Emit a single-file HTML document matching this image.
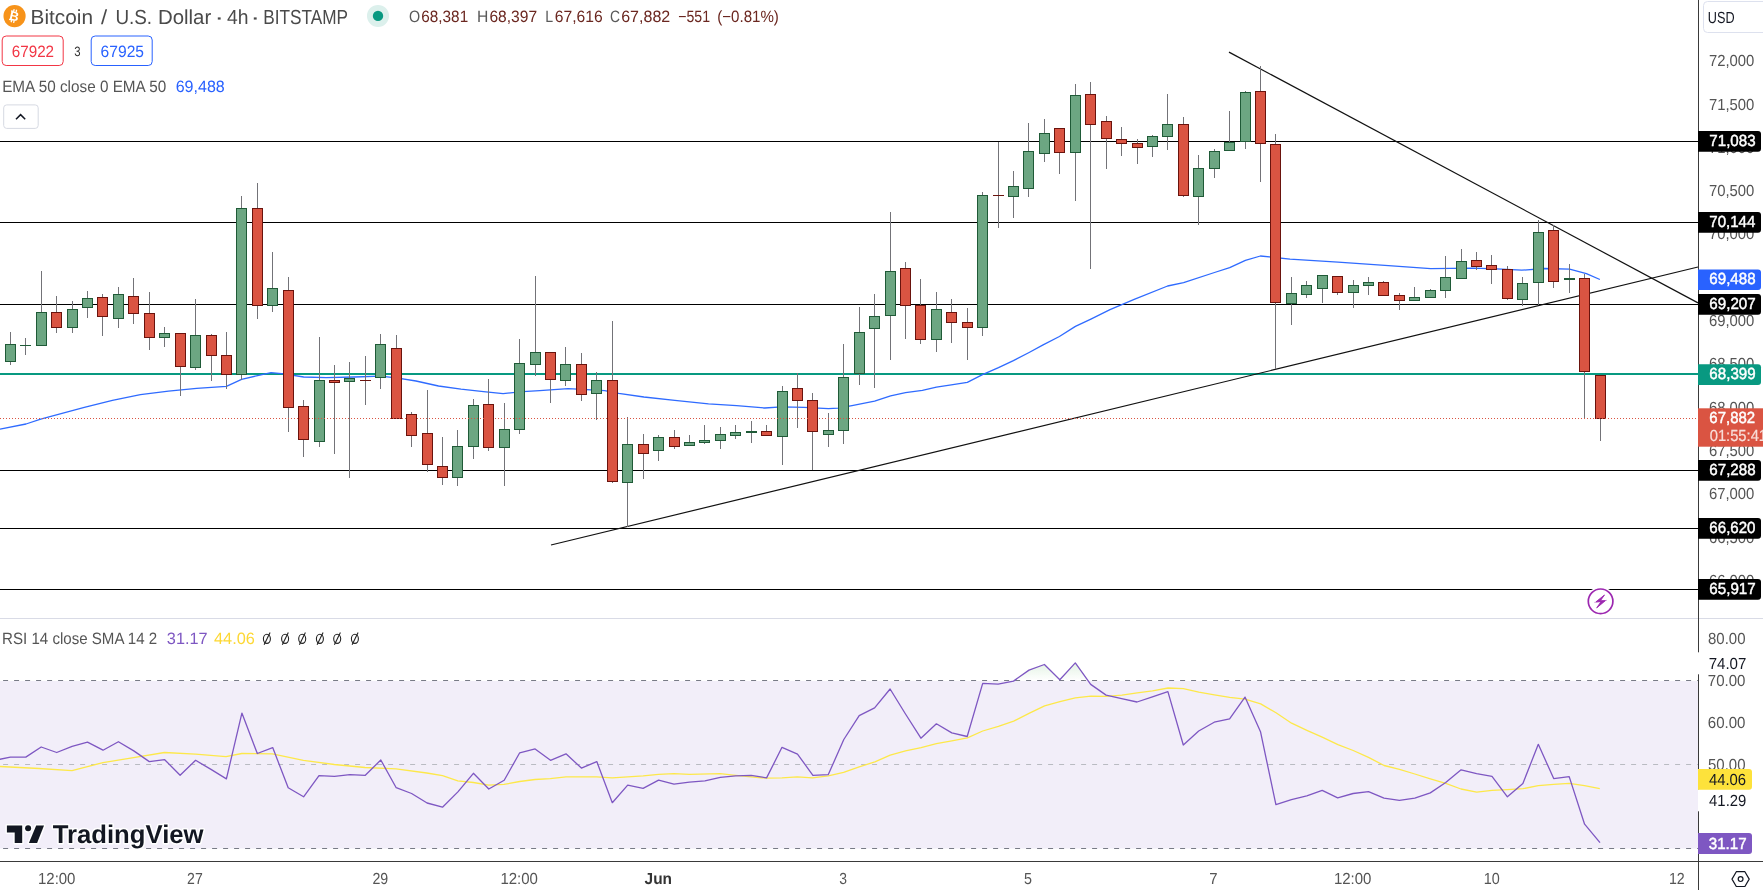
<!DOCTYPE html><html><head><meta charset="utf-8"><title>BTCUSD</title><style>
html,body{margin:0;padding:0;background:#fff}body{width:1763px;height:890px;position:relative;overflow:hidden;font-family:"Liberation Sans",sans-serif}
</style></head><body>
<svg width="1763" height="890" viewBox="0 0 1763 890" style="position:absolute;left:0;top:0;will-change:transform">
<defs><linearGradient id="ob" gradientUnits="userSpaceOnUse" x1="0" y1="658" x2="0" y2="680.5"><stop offset="0" stop-color="#4CAF50" stop-opacity="0.2"/><stop offset="1" stop-color="#4CAF50" stop-opacity="0"/></linearGradient></defs>
<rect x="0" y="681" width="1698" height="167.5" fill="#F2EEF9"/>
<rect x="0" y="618" width="1763" height="1" fill="#D9DBE6"/>
<rect x="0" y="141" width="1698" height="1" fill="#000"/>
<rect x="0" y="222" width="1698" height="1" fill="#000"/>
<rect x="0" y="304" width="1698" height="1" fill="#000"/>
<rect x="0" y="470" width="1698" height="1" fill="#000"/>
<rect x="0" y="528" width="1698" height="1" fill="#000"/>
<rect x="0" y="589" width="1698" height="1" fill="#000"/>
<rect x="0" y="373" width="1698" height="2" fill="#089981"/>
<g stroke="#111" stroke-width="1.2" fill="none">
<line x1="1229" y1="52.1" x2="1698" y2="302.9"/>
<line x1="551" y1="545" x2="1698" y2="267"/>
</g>
<polyline fill="none" stroke="#2F6BFF" stroke-width="1.3" stroke-linejoin="round" points="0,429.2 26,424 40.7,419.2 84.3,407.4 112.4,400.3 140.4,394.7 168.5,391.1 196.6,388.3 226.4,386.3 241.6,379.3 257.6,375.6 271,372.6 284,373.9 303.7,377 326.2,377.6 354.3,377 380.4,376.2 396.4,377.9 416,381 438.5,386 461,389.1 483.5,391.6 503.1,393.6 522.8,391.6 539.7,390.6 568.1,388.6 582.1,389.4 604.6,390.6 618.7,393.4 643.9,397 674.8,400.4 708.5,403.8 736.6,405.7 764.7,408 781.6,406.9 804,407.4 818.4,408.1 828.5,408.7 838,408.1 852,405.6 874.6,401.1 890.6,395.8 905.5,392.7 922.4,390.4 936.4,387.1 951.3,384.8 967.3,382.3 982.5,374.7 998.5,367.7 1013.4,360.7 1029.1,352.5 1043.1,344.9 1059.4,336.5 1075.4,326.4 1090.9,319.1 1110,309.6 1134.2,299.4 1167.6,286 1183.6,282.6 1214.5,272.5 1229.7,267.7 1245.4,260.3 1260.4,256 1290,259.1 1338,262.2 1388.5,265.6 1430.7,268.7 1472.8,268.1 1496.5,268.8 1521.8,270.2 1544.3,268.5 1569.6,269.1 1586.4,273.6 1599.9,279.5"/>
<g shape-rendering="crispEdges">
<rect x="10.0" y="332" width="1" height="33" fill="#737378"/>
<rect x="5.0" y="344" width="11" height="18" fill="#1F5A37"/>
<rect x="6.0" y="345" width="9" height="16" fill="#6CA682"/>
<rect x="25.0" y="338" width="1" height="17" fill="#737378"/>
<rect x="20.0" y="345" width="11" height="1" fill="#1F5A37"/>
<rect x="41.0" y="271" width="1" height="75" fill="#737378"/>
<rect x="36.0" y="312" width="11" height="34" fill="#1F5A37"/>
<rect x="37.0" y="313" width="9" height="32" fill="#6CA682"/>
<rect x="56.0" y="296" width="1" height="37" fill="#737378"/>
<rect x="51.0" y="312" width="11" height="16" fill="#6A130D"/>
<rect x="52.0" y="313" width="9" height="14" fill="#DA5442"/>
<rect x="72.0" y="301" width="1" height="32" fill="#737378"/>
<rect x="67.0" y="309" width="11" height="19" fill="#1F5A37"/>
<rect x="68.0" y="310" width="9" height="17" fill="#6CA682"/>
<rect x="87.0" y="291" width="1" height="27" fill="#737378"/>
<rect x="82.0" y="298" width="11" height="10" fill="#1F5A37"/>
<rect x="83.0" y="299" width="9" height="8" fill="#6CA682"/>
<rect x="102.0" y="294" width="1" height="42" fill="#737378"/>
<rect x="97.0" y="297" width="11" height="20" fill="#6A130D"/>
<rect x="98.0" y="298" width="9" height="18" fill="#DA5442"/>
<rect x="118.0" y="287" width="1" height="41" fill="#737378"/>
<rect x="113.0" y="294" width="11" height="25" fill="#1F5A37"/>
<rect x="114.0" y="295" width="9" height="23" fill="#6CA682"/>
<rect x="133.0" y="278" width="1" height="46" fill="#737378"/>
<rect x="128.0" y="296" width="11" height="18" fill="#6A130D"/>
<rect x="129.0" y="297" width="9" height="16" fill="#DA5442"/>
<rect x="149.0" y="292" width="1" height="58" fill="#737378"/>
<rect x="144.0" y="313" width="11" height="25" fill="#6A130D"/>
<rect x="145.0" y="314" width="9" height="23" fill="#DA5442"/>
<rect x="164.0" y="327" width="1" height="20" fill="#737378"/>
<rect x="159.0" y="333" width="11" height="5" fill="#1F5A37"/>
<rect x="160.0" y="334" width="9" height="3" fill="#6CA682"/>
<rect x="180.0" y="333" width="1" height="63" fill="#737378"/>
<rect x="175.0" y="333" width="11" height="34" fill="#6A130D"/>
<rect x="176.0" y="334" width="9" height="32" fill="#DA5442"/>
<rect x="195.0" y="299" width="1" height="71" fill="#737378"/>
<rect x="190.0" y="335" width="11" height="33" fill="#1F5A37"/>
<rect x="191.0" y="336" width="9" height="31" fill="#6CA682"/>
<rect x="211.0" y="334" width="1" height="47" fill="#737378"/>
<rect x="206.0" y="335" width="11" height="21" fill="#6A130D"/>
<rect x="207.0" y="336" width="9" height="19" fill="#DA5442"/>
<rect x="226.0" y="332" width="1" height="57" fill="#737378"/>
<rect x="221.0" y="355" width="11" height="20" fill="#6A130D"/>
<rect x="222.0" y="356" width="9" height="18" fill="#DA5442"/>
<rect x="241.0" y="196" width="1" height="184" fill="#737378"/>
<rect x="236.0" y="208" width="11" height="167" fill="#1F5A37"/>
<rect x="237.0" y="209" width="9" height="165" fill="#6CA682"/>
<rect x="257.0" y="183" width="1" height="136" fill="#737378"/>
<rect x="252.0" y="208" width="11" height="98" fill="#6A130D"/>
<rect x="253.0" y="209" width="9" height="96" fill="#DA5442"/>
<rect x="272.0" y="252" width="1" height="60" fill="#737378"/>
<rect x="267.0" y="288" width="11" height="18" fill="#1F5A37"/>
<rect x="268.0" y="289" width="9" height="16" fill="#6CA682"/>
<rect x="288.0" y="277" width="1" height="155" fill="#737378"/>
<rect x="283.0" y="290" width="11" height="118" fill="#6A130D"/>
<rect x="284.0" y="291" width="9" height="116" fill="#DA5442"/>
<rect x="303.0" y="400" width="1" height="57" fill="#737378"/>
<rect x="298.0" y="406" width="11" height="34" fill="#6A130D"/>
<rect x="299.0" y="407" width="9" height="32" fill="#DA5442"/>
<rect x="319.0" y="337" width="1" height="110" fill="#737378"/>
<rect x="314.0" y="380" width="11" height="62" fill="#1F5A37"/>
<rect x="315.0" y="381" width="9" height="60" fill="#6CA682"/>
<rect x="334.0" y="365" width="1" height="89" fill="#737378"/>
<rect x="329.0" y="380" width="11" height="3" fill="#6A130D"/>
<rect x="330.0" y="381" width="9" height="1" fill="#DA5442"/>
<rect x="349.0" y="362" width="1" height="116" fill="#737378"/>
<rect x="344.0" y="378" width="11" height="4" fill="#1F5A37"/>
<rect x="345.0" y="379" width="9" height="2" fill="#6CA682"/>
<rect x="365.0" y="356" width="1" height="49" fill="#737378"/>
<rect x="360.0" y="380" width="11" height="1" fill="#6A130D"/>
<rect x="380.0" y="334" width="1" height="55" fill="#737378"/>
<rect x="375.0" y="344" width="11" height="34" fill="#1F5A37"/>
<rect x="376.0" y="345" width="9" height="32" fill="#6CA682"/>
<rect x="396.0" y="335" width="1" height="84" fill="#737378"/>
<rect x="391.0" y="348" width="11" height="71" fill="#6A130D"/>
<rect x="392.0" y="349" width="9" height="69" fill="#DA5442"/>
<rect x="411.0" y="412" width="1" height="35" fill="#737378"/>
<rect x="406.0" y="414" width="11" height="22" fill="#6A130D"/>
<rect x="407.0" y="415" width="9" height="20" fill="#DA5442"/>
<rect x="427.0" y="390" width="1" height="82" fill="#737378"/>
<rect x="422.0" y="433" width="11" height="32" fill="#6A130D"/>
<rect x="423.0" y="434" width="9" height="30" fill="#DA5442"/>
<rect x="442.0" y="437" width="1" height="48" fill="#737378"/>
<rect x="437.0" y="466" width="11" height="12" fill="#6A130D"/>
<rect x="438.0" y="467" width="9" height="10" fill="#DA5442"/>
<rect x="457.0" y="430" width="1" height="56" fill="#737378"/>
<rect x="452.0" y="446" width="11" height="32" fill="#1F5A37"/>
<rect x="453.0" y="447" width="9" height="30" fill="#6CA682"/>
<rect x="473.0" y="399" width="1" height="60" fill="#737378"/>
<rect x="468.0" y="405" width="11" height="42" fill="#1F5A37"/>
<rect x="469.0" y="406" width="9" height="40" fill="#6CA682"/>
<rect x="488.0" y="379" width="1" height="72" fill="#737378"/>
<rect x="483.0" y="404" width="11" height="44" fill="#6A130D"/>
<rect x="484.0" y="405" width="9" height="42" fill="#DA5442"/>
<rect x="504.0" y="403" width="1" height="83" fill="#737378"/>
<rect x="499.0" y="429" width="11" height="19" fill="#1F5A37"/>
<rect x="500.0" y="430" width="9" height="17" fill="#6CA682"/>
<rect x="519.0" y="339" width="1" height="95" fill="#737378"/>
<rect x="514.0" y="363" width="11" height="67" fill="#1F5A37"/>
<rect x="515.0" y="364" width="9" height="65" fill="#6CA682"/>
<rect x="535.0" y="276" width="1" height="100" fill="#737378"/>
<rect x="530.0" y="352" width="11" height="13" fill="#1F5A37"/>
<rect x="531.0" y="353" width="9" height="11" fill="#6CA682"/>
<rect x="550.0" y="352" width="1" height="51" fill="#737378"/>
<rect x="545.0" y="352" width="11" height="28" fill="#6A130D"/>
<rect x="546.0" y="353" width="9" height="26" fill="#DA5442"/>
<rect x="565.0" y="347" width="1" height="39" fill="#737378"/>
<rect x="560.0" y="364" width="11" height="17" fill="#1F5A37"/>
<rect x="561.0" y="365" width="9" height="15" fill="#6CA682"/>
<rect x="581.0" y="353" width="1" height="48" fill="#737378"/>
<rect x="576.0" y="364" width="11" height="31" fill="#6A130D"/>
<rect x="577.0" y="365" width="9" height="29" fill="#DA5442"/>
<rect x="596.0" y="372" width="1" height="48" fill="#737378"/>
<rect x="591.0" y="380" width="11" height="14" fill="#1F5A37"/>
<rect x="592.0" y="381" width="9" height="12" fill="#6CA682"/>
<rect x="612.0" y="321" width="1" height="162" fill="#737378"/>
<rect x="607.0" y="380" width="11" height="102" fill="#6A130D"/>
<rect x="608.0" y="381" width="9" height="100" fill="#DA5442"/>
<rect x="627.0" y="417" width="1" height="110" fill="#737378"/>
<rect x="622.0" y="444" width="11" height="39" fill="#1F5A37"/>
<rect x="623.0" y="445" width="9" height="37" fill="#6CA682"/>
<rect x="643.0" y="434" width="1" height="45" fill="#737378"/>
<rect x="638.0" y="444" width="11" height="10" fill="#6A130D"/>
<rect x="639.0" y="445" width="9" height="8" fill="#DA5442"/>
<rect x="658.0" y="435" width="1" height="26" fill="#737378"/>
<rect x="653.0" y="437" width="11" height="14" fill="#1F5A37"/>
<rect x="654.0" y="438" width="9" height="12" fill="#6CA682"/>
<rect x="674.0" y="430" width="1" height="19" fill="#737378"/>
<rect x="669.0" y="437" width="11" height="10" fill="#6A130D"/>
<rect x="670.0" y="438" width="9" height="8" fill="#DA5442"/>
<rect x="689.0" y="435" width="1" height="11" fill="#737378"/>
<rect x="684.0" y="442" width="11" height="4" fill="#1F5A37"/>
<rect x="685.0" y="443" width="9" height="2" fill="#6CA682"/>
<rect x="704.0" y="425" width="1" height="19" fill="#737378"/>
<rect x="699.0" y="440" width="11" height="3" fill="#1F5A37"/>
<rect x="700.0" y="441" width="9" height="1" fill="#6CA682"/>
<rect x="720.0" y="427" width="1" height="22" fill="#737378"/>
<rect x="715.0" y="434" width="11" height="7" fill="#1F5A37"/>
<rect x="716.0" y="435" width="9" height="5" fill="#6CA682"/>
<rect x="735.0" y="425" width="1" height="14" fill="#737378"/>
<rect x="730.0" y="432" width="11" height="4" fill="#1F5A37"/>
<rect x="731.0" y="433" width="9" height="2" fill="#6CA682"/>
<rect x="751.0" y="421" width="1" height="22" fill="#737378"/>
<rect x="746.0" y="431" width="11" height="2" fill="#1F5A37"/>
<rect x="766.0" y="425" width="1" height="11" fill="#737378"/>
<rect x="761.0" y="431" width="11" height="5" fill="#6A130D"/>
<rect x="762.0" y="432" width="9" height="3" fill="#DA5442"/>
<rect x="782.0" y="386" width="1" height="79" fill="#737378"/>
<rect x="777.0" y="391" width="11" height="46" fill="#1F5A37"/>
<rect x="778.0" y="392" width="9" height="44" fill="#6CA682"/>
<rect x="797.0" y="373" width="1" height="55" fill="#737378"/>
<rect x="792.0" y="388" width="11" height="13" fill="#6A130D"/>
<rect x="793.0" y="389" width="9" height="11" fill="#DA5442"/>
<rect x="812.0" y="393" width="1" height="77" fill="#737378"/>
<rect x="807.0" y="400" width="11" height="32" fill="#6A130D"/>
<rect x="808.0" y="401" width="9" height="30" fill="#DA5442"/>
<rect x="828.0" y="413" width="1" height="34" fill="#737378"/>
<rect x="823.0" y="430" width="11" height="5" fill="#1F5A37"/>
<rect x="824.0" y="431" width="9" height="3" fill="#6CA682"/>
<rect x="843.0" y="344" width="1" height="100" fill="#737378"/>
<rect x="838.0" y="377" width="11" height="54" fill="#1F5A37"/>
<rect x="839.0" y="378" width="9" height="52" fill="#6CA682"/>
<rect x="859.0" y="307" width="1" height="78" fill="#737378"/>
<rect x="854.0" y="332" width="11" height="42" fill="#1F5A37"/>
<rect x="855.0" y="333" width="9" height="40" fill="#6CA682"/>
<rect x="874.0" y="294" width="1" height="94" fill="#737378"/>
<rect x="869.0" y="316" width="11" height="13" fill="#1F5A37"/>
<rect x="870.0" y="317" width="9" height="11" fill="#6CA682"/>
<rect x="890.0" y="212" width="1" height="148" fill="#737378"/>
<rect x="885.0" y="271" width="11" height="45" fill="#1F5A37"/>
<rect x="886.0" y="272" width="9" height="43" fill="#6CA682"/>
<rect x="905.0" y="262" width="1" height="77" fill="#737378"/>
<rect x="900.0" y="268" width="11" height="38" fill="#6A130D"/>
<rect x="901.0" y="269" width="9" height="36" fill="#DA5442"/>
<rect x="920.0" y="279" width="1" height="65" fill="#737378"/>
<rect x="915.0" y="305" width="11" height="35" fill="#6A130D"/>
<rect x="916.0" y="306" width="9" height="33" fill="#DA5442"/>
<rect x="936.0" y="292" width="1" height="60" fill="#737378"/>
<rect x="931.0" y="309" width="11" height="31" fill="#1F5A37"/>
<rect x="932.0" y="310" width="9" height="29" fill="#6CA682"/>
<rect x="951.0" y="299" width="1" height="44" fill="#737378"/>
<rect x="946.0" y="312" width="11" height="11" fill="#6A130D"/>
<rect x="947.0" y="313" width="9" height="9" fill="#DA5442"/>
<rect x="967.0" y="308" width="1" height="52" fill="#737378"/>
<rect x="962.0" y="322" width="11" height="6" fill="#6A130D"/>
<rect x="963.0" y="323" width="9" height="4" fill="#DA5442"/>
<rect x="982.0" y="192" width="1" height="144" fill="#737378"/>
<rect x="977.0" y="195" width="11" height="133" fill="#1F5A37"/>
<rect x="978.0" y="196" width="9" height="131" fill="#6CA682"/>
<rect x="998.0" y="142" width="1" height="86" fill="#737378"/>
<rect x="993.0" y="195" width="11" height="1" fill="#6A130D"/>
<rect x="1013.0" y="171" width="1" height="47" fill="#737378"/>
<rect x="1008.0" y="186" width="11" height="11" fill="#1F5A37"/>
<rect x="1009.0" y="187" width="9" height="9" fill="#6CA682"/>
<rect x="1028.0" y="123" width="1" height="74" fill="#737378"/>
<rect x="1023.0" y="151" width="11" height="38" fill="#1F5A37"/>
<rect x="1024.0" y="152" width="9" height="36" fill="#6CA682"/>
<rect x="1044.0" y="119" width="1" height="43" fill="#737378"/>
<rect x="1039.0" y="133" width="11" height="21" fill="#1F5A37"/>
<rect x="1040.0" y="134" width="9" height="19" fill="#6CA682"/>
<rect x="1059.0" y="128" width="1" height="46" fill="#737378"/>
<rect x="1054.0" y="128" width="11" height="25" fill="#6A130D"/>
<rect x="1055.0" y="129" width="9" height="23" fill="#DA5442"/>
<rect x="1075.0" y="84" width="1" height="117" fill="#737378"/>
<rect x="1070.0" y="95" width="11" height="58" fill="#1F5A37"/>
<rect x="1071.0" y="96" width="9" height="56" fill="#6CA682"/>
<rect x="1090.0" y="82" width="1" height="187" fill="#737378"/>
<rect x="1085.0" y="94" width="11" height="31" fill="#6A130D"/>
<rect x="1086.0" y="95" width="9" height="29" fill="#DA5442"/>
<rect x="1106.0" y="116" width="1" height="53" fill="#737378"/>
<rect x="1101.0" y="121" width="11" height="18" fill="#6A130D"/>
<rect x="1102.0" y="122" width="9" height="16" fill="#DA5442"/>
<rect x="1121.0" y="127" width="1" height="29" fill="#737378"/>
<rect x="1116.0" y="139" width="11" height="5" fill="#6A130D"/>
<rect x="1117.0" y="140" width="9" height="3" fill="#DA5442"/>
<rect x="1137.0" y="139" width="1" height="25" fill="#737378"/>
<rect x="1132.0" y="143" width="11" height="5" fill="#6A130D"/>
<rect x="1133.0" y="144" width="9" height="3" fill="#DA5442"/>
<rect x="1152.0" y="135" width="1" height="22" fill="#737378"/>
<rect x="1147.0" y="136" width="11" height="11" fill="#1F5A37"/>
<rect x="1148.0" y="137" width="9" height="9" fill="#6CA682"/>
<rect x="1167.0" y="94" width="1" height="56" fill="#737378"/>
<rect x="1162.0" y="124" width="11" height="13" fill="#1F5A37"/>
<rect x="1163.0" y="125" width="9" height="11" fill="#6CA682"/>
<rect x="1183.0" y="117" width="1" height="80" fill="#737378"/>
<rect x="1178.0" y="124" width="11" height="72" fill="#6A130D"/>
<rect x="1179.0" y="125" width="9" height="70" fill="#DA5442"/>
<rect x="1198.0" y="155" width="1" height="70" fill="#737378"/>
<rect x="1193.0" y="168" width="11" height="29" fill="#1F5A37"/>
<rect x="1194.0" y="169" width="9" height="27" fill="#6CA682"/>
<rect x="1214.0" y="149" width="1" height="29" fill="#737378"/>
<rect x="1209.0" y="151" width="11" height="18" fill="#1F5A37"/>
<rect x="1210.0" y="152" width="9" height="16" fill="#6CA682"/>
<rect x="1229.0" y="111" width="1" height="40" fill="#737378"/>
<rect x="1224.0" y="142" width="11" height="9" fill="#1F5A37"/>
<rect x="1225.0" y="143" width="9" height="7" fill="#6CA682"/>
<rect x="1245.0" y="91" width="1" height="58" fill="#737378"/>
<rect x="1240.0" y="92" width="11" height="50" fill="#1F5A37"/>
<rect x="1241.0" y="93" width="9" height="48" fill="#6CA682"/>
<rect x="1260.0" y="66" width="1" height="116" fill="#737378"/>
<rect x="1255.0" y="91" width="11" height="53" fill="#6A130D"/>
<rect x="1256.0" y="92" width="9" height="51" fill="#DA5442"/>
<rect x="1275.0" y="134" width="1" height="235" fill="#737378"/>
<rect x="1270.0" y="144" width="11" height="159" fill="#6A130D"/>
<rect x="1271.0" y="145" width="9" height="157" fill="#DA5442"/>
<rect x="1291.0" y="277" width="1" height="48" fill="#737378"/>
<rect x="1286.0" y="293" width="11" height="11" fill="#1F5A37"/>
<rect x="1287.0" y="294" width="9" height="9" fill="#6CA682"/>
<rect x="1306.0" y="281" width="1" height="17" fill="#737378"/>
<rect x="1301.0" y="285" width="11" height="10" fill="#1F5A37"/>
<rect x="1302.0" y="286" width="9" height="8" fill="#6CA682"/>
<rect x="1322.0" y="275" width="1" height="28" fill="#737378"/>
<rect x="1317.0" y="275" width="11" height="14" fill="#1F5A37"/>
<rect x="1318.0" y="276" width="9" height="12" fill="#6CA682"/>
<rect x="1337.0" y="276" width="1" height="19" fill="#737378"/>
<rect x="1332.0" y="276" width="11" height="17" fill="#6A130D"/>
<rect x="1333.0" y="277" width="9" height="15" fill="#DA5442"/>
<rect x="1353.0" y="280" width="1" height="28" fill="#737378"/>
<rect x="1348.0" y="285" width="11" height="8" fill="#1F5A37"/>
<rect x="1349.0" y="286" width="9" height="6" fill="#6CA682"/>
<rect x="1368.0" y="277" width="1" height="18" fill="#737378"/>
<rect x="1363.0" y="282" width="11" height="4" fill="#1F5A37"/>
<rect x="1364.0" y="283" width="9" height="2" fill="#6CA682"/>
<rect x="1383.0" y="281" width="1" height="15" fill="#737378"/>
<rect x="1378.0" y="282" width="11" height="14" fill="#6A130D"/>
<rect x="1379.0" y="283" width="9" height="12" fill="#DA5442"/>
<rect x="1399.0" y="293" width="1" height="17" fill="#737378"/>
<rect x="1394.0" y="295" width="11" height="6" fill="#6A130D"/>
<rect x="1395.0" y="296" width="9" height="4" fill="#DA5442"/>
<rect x="1414.0" y="287" width="1" height="14" fill="#737378"/>
<rect x="1409.0" y="297" width="11" height="4" fill="#1F5A37"/>
<rect x="1410.0" y="298" width="9" height="2" fill="#6CA682"/>
<rect x="1430.0" y="289" width="1" height="9" fill="#737378"/>
<rect x="1425.0" y="290" width="11" height="8" fill="#1F5A37"/>
<rect x="1426.0" y="291" width="9" height="6" fill="#6CA682"/>
<rect x="1445.0" y="256" width="1" height="42" fill="#737378"/>
<rect x="1440.0" y="277" width="11" height="14" fill="#1F5A37"/>
<rect x="1441.0" y="278" width="9" height="12" fill="#6CA682"/>
<rect x="1461.0" y="249" width="1" height="30" fill="#737378"/>
<rect x="1456.0" y="261" width="11" height="18" fill="#1F5A37"/>
<rect x="1457.0" y="262" width="9" height="16" fill="#6CA682"/>
<rect x="1476.0" y="252" width="1" height="18" fill="#737378"/>
<rect x="1471.0" y="260" width="11" height="7" fill="#6A130D"/>
<rect x="1472.0" y="261" width="9" height="5" fill="#DA5442"/>
<rect x="1491.0" y="255" width="1" height="29" fill="#737378"/>
<rect x="1486.0" y="265" width="11" height="5" fill="#6A130D"/>
<rect x="1487.0" y="266" width="9" height="3" fill="#DA5442"/>
<rect x="1507.0" y="266" width="1" height="34" fill="#737378"/>
<rect x="1502.0" y="269" width="11" height="30" fill="#6A130D"/>
<rect x="1503.0" y="270" width="9" height="28" fill="#DA5442"/>
<rect x="1522.0" y="277" width="1" height="29" fill="#737378"/>
<rect x="1517.0" y="283" width="11" height="17" fill="#1F5A37"/>
<rect x="1518.0" y="284" width="9" height="15" fill="#6CA682"/>
<rect x="1538.0" y="220" width="1" height="85" fill="#737378"/>
<rect x="1533.0" y="232" width="11" height="51" fill="#1F5A37"/>
<rect x="1534.0" y="233" width="9" height="49" fill="#6CA682"/>
<rect x="1553.0" y="225" width="1" height="63" fill="#737378"/>
<rect x="1548.0" y="230" width="11" height="52" fill="#6A130D"/>
<rect x="1549.0" y="231" width="9" height="50" fill="#DA5442"/>
<rect x="1569.0" y="264" width="1" height="29" fill="#737378"/>
<rect x="1564.0" y="278" width="11" height="2" fill="#1F5A37"/>
<rect x="1584.0" y="274" width="1" height="144" fill="#737378"/>
<rect x="1579.0" y="278" width="11" height="94" fill="#6A130D"/>
<rect x="1580.0" y="279" width="9" height="92" fill="#DA5442"/>
<rect x="1600.0" y="375" width="1" height="66" fill="#737378"/>
<rect x="1595.0" y="375" width="11" height="44" fill="#6A130D"/>
<rect x="1596.0" y="376" width="9" height="42" fill="#DA5442"/>
</g>
<line x1="0" y1="418.5" x2="1698" y2="418.5" stroke="#DA5442" stroke-width="1" stroke-dasharray="1 2"/>
<polygon fill="url(#ob)" points="1014.4,680.5 1029.0,670.1 1044.4,664.5 1059.8,679.8 1075.3,662.9 1087.9,680.5"/>
<line x1="0" y1="680.5" x2="1698" y2="680.5" stroke="#787B86" stroke-width="1" stroke-dasharray="5 6" stroke-dashoffset="-3.1"/>
<line x1="0" y1="764.5" x2="1698" y2="764.5" stroke="#B9BBC2" stroke-width="1" stroke-dasharray="5 6" stroke-dashoffset="-3.1"/>
<line x1="0" y1="848.5" x2="1698" y2="848.5" stroke="#787B86" stroke-width="1" stroke-dasharray="5 6" stroke-dashoffset="-3.1"/>
<polyline fill="none" stroke="#FDE84A" stroke-width="1.3" stroke-linejoin="round" points="0,766.5 39,768.5 72,770.7 103,762.6 133.6,757.7 164.5,752.5 195.5,754.1 226,756.7 241.8,753.5 272.4,753.8 303.4,760.3 334.3,764.5 365,767.5 396,768.8 426.8,773 442.5,775.6 457.8,780.8 473.4,782.5 488.7,785.1 504,784.4 519.7,781.5 535,779.5 550.3,778.6 566,776.9 596.6,776.9 612.2,777.9 643.2,775.9 658.5,774.3 673.8,773.7 689.5,774.3 720.1,773.7 735.7,775.3 751,776.9 766.4,778.2 782,777.9 797.3,776.9 812.6,777.9 828.3,775.9 843.6,772.4 859.2,766.8 874.9,761.9 890.2,755.1 905.5,750.9 921.1,747.6 936.4,743.7 951.8,740.8 967.4,737.8 982.7,731 998.4,726.4 1013.7,721.2 1029,713.4 1044.6,705.9 1059.9,701.7 1075.3,697.8 1090.9,696.1 1106.2,696.4 1121.9,695.1 1137.2,692.9 1152.5,690.9 1168.1,688 1183.4,688.6 1198.8,692.2 1214.4,694.8 1229.7,697.4 1245,699.1 1260.7,703.9 1276,712.7 1291.6,723.2 1306.9,730.3 1322.2,737.2 1337.9,744.7 1353.2,750.5 1368.5,757.4 1384.1,765.5 1399.5,769.4 1414.8,774 1430.4,778.9 1445.7,783.4 1461,789 1476.7,792.2 1492,790.3 1507.3,789.6 1523,788.7 1538.3,785.7 1553.6,784.4 1569.2,783.4 1584.5,785.7 1599.8,788.7"/>
<polyline fill="none" stroke="#7E57C2" stroke-width="1.3" stroke-linejoin="round" points="-5.1,760.3 10.4,757.1 25.8,757.1 41.2,747 56.7,752.5 72.1,746.3 87.5,742.1 103.0,750.2 118.4,741.7 133.8,750.9 149.3,761.6 164.7,759.7 180.1,775.3 195.6,760.3 211.0,769.4 226.4,778.9 241.9,713.1 257.3,753.5 272.7,747.6 288.2,787.7 303.6,796.8 319.0,775.6 334.5,776.3 349.9,774.6 365.3,775.3 380.8,760 396.2,787.7 411.6,793.5 427.1,803 442.5,807.2 457.9,791.9 473.4,773.3 488.8,789 504.2,780.2 519.7,752.8 535.1,748.9 550.5,760.3 566.0,753.8 581.4,768.1 596.8,761.6 612.3,802.7 627.7,785.1 643.1,788.3 658.6,780.2 674.0,784.1 689.4,782.1 704.9,780.8 720.3,777.3 735.7,775.9 751.2,775.3 766.6,777.9 782.0,747.3 797.5,754.1 812.9,775.3 828.3,774.6 843.8,739.5 859.2,715.7 874.6,707.9 890.1,689 905.5,714 920.9,738.2 936.4,723.8 951.8,732.9 967.2,736.5 982.7,683.4 998.1,684.1 1013.5,681.1 1029.0,670.1 1044.4,664.5 1059.8,679.8 1075.3,662.9 1090.7,684.4 1106.1,695.1 1121.6,698.7 1137.0,702 1152.4,696.8 1167.9,691.6 1183.3,745 1198.7,731 1214.2,722.2 1229.6,718.9 1245.0,697.1 1260.5,731.7 1275.9,804.6 1291.4,799.7 1306.8,795.8 1322.2,790.3 1337.7,797.8 1353.1,793.5 1368.5,791.6 1384.0,798.1 1399.4,800.4 1414.8,798.1 1430.3,792.9 1445.7,782.5 1461.1,769.8 1476.6,773.7 1492.0,776.3 1507.4,796.8 1522.9,783.4 1538.3,744.3 1553.7,778.6 1569.2,776.6 1584.6,824.2 1600.0,842.7"/>
<rect x="1698" y="0" width="1" height="890" fill="#3A3A3A"/>
<rect x="0" y="861" width="1763" height="1" fill="#3A3A3A"/>
<g transform="translate(1600.6 601.3)"><circle r="14.4" fill="#fff"/><circle r="12.3" fill="#fff" stroke="#9C27B0" stroke-width="1.7"/><path d="M3.9,-6.3 L-4.6,0.5 L0.4,0.4 L-3.9,6.6 L4.7,-0.6 L-0.2,-0.6 Z" fill="#9C27B0" stroke="#9C27B0" stroke-width="0.9" stroke-linejoin="miter"/><path d="M-6.2,1.1 L6.2,-1.0" stroke="#9C27B0" stroke-width="0.5"/></g>
<g transform="translate(14.55 16.05)"><circle r="11.1" fill="#F7931A"/><g transform="rotate(13)"><text x="-0.2" y="4.6" font-family="Liberation Sans, sans-serif" font-weight="bold" font-size="12.8" fill="#fff" text-anchor="middle">B</text><path d="M-1.9,-6.6 V-4 M0.6,-6.6 V-4 M-1.9,4.2 V6.8 M0.6,4.2 V6.8 M-4.6,-4.3 H-2 M-4.6,4.4 H-2" stroke="#fff" stroke-width="1.3" fill="none"/></g></g>
<g transform="translate(266.9 638.8)" stroke="#222" stroke-width="1.1" fill="none"><ellipse rx="3.5" ry="4.6"/><path d="M-2.8,6 L3.2,-6.2"/></g>
<g transform="translate(285.1 638.8)" stroke="#222" stroke-width="1.1" fill="none"><ellipse rx="3.5" ry="4.6"/><path d="M-2.8,6 L3.2,-6.2"/></g>
<g transform="translate(302.2 638.8)" stroke="#222" stroke-width="1.1" fill="none"><ellipse rx="3.5" ry="4.6"/><path d="M-2.8,6 L3.2,-6.2"/></g>
<g transform="translate(319.9 638.8)" stroke="#222" stroke-width="1.1" fill="none"><ellipse rx="3.5" ry="4.6"/><path d="M-2.8,6 L3.2,-6.2"/></g>
<g transform="translate(337.2 638.8)" stroke="#222" stroke-width="1.1" fill="none"><ellipse rx="3.5" ry="4.6"/><path d="M-2.8,6 L3.2,-6.2"/></g>
<g transform="translate(354.9 638.8)" stroke="#222" stroke-width="1.1" fill="none"><ellipse rx="3.5" ry="4.6"/><path d="M-2.8,6 L3.2,-6.2"/></g>
<circle cx="378" cy="15.9" r="11" fill="#DCF0EC"/><circle cx="378" cy="15.9" r="5.2" fill="#089981"/>
<path d="M16,119.2 L20.6,114.6 L25.2,119.2" fill="none" stroke="#131722" stroke-width="1.5"/>
<polygon points="1749.2,879.1 1744.9,886.5 1736.3,886.5 1732.0,879.1 1736.3,871.7 1744.9,871.7" fill="none" stroke="#131722" stroke-width="1.2" stroke-linejoin="round"/><circle cx="1740.6" cy="879.1" r="2.4" fill="none" stroke="#131722" stroke-width="1.2"/>
<g stroke="#fff" stroke-width="3" stroke-linejoin="round" fill="#131722" paint-order="stroke">
<path d="M6.9,825.4 H22.2 V843.1 H14.7 V832.5 H6.9 Z"/><circle cx="28.1" cy="828.3" r="3"/><path d="M36.2,825.4 H44 L37.1,843.1 H28.9 Z"/>
</g>
<g font-family="Liberation Sans, sans-serif" text-rendering="geometricPrecision">
<text x="1708.96" y="66" font-size="16.1" fill="#555" textLength="45.44" lengthAdjust="spacingAndGlyphs">72,000</text>
<text x="1708.96" y="110" font-size="16.1" fill="#555" textLength="45.44" lengthAdjust="spacingAndGlyphs">71,500</text>
<text x="1708.96" y="153" font-size="16.1" fill="#555" textLength="45.44" lengthAdjust="spacingAndGlyphs">71,000</text>
<text x="1708.96" y="196" font-size="16.1" fill="#555" textLength="45.44" lengthAdjust="spacingAndGlyphs">70,500</text>
<text x="1708.96" y="239" font-size="16.1" fill="#555" textLength="45.44" lengthAdjust="spacingAndGlyphs">70,000</text>
<text x="1708.96" y="326" font-size="16.1" fill="#555" textLength="45.44" lengthAdjust="spacingAndGlyphs">69,000</text>
<text x="1708.96" y="369" font-size="16.1" fill="#555" textLength="45.44" lengthAdjust="spacingAndGlyphs">68,500</text>
<text x="1708.96" y="413" font-size="16.1" fill="#555" textLength="45.44" lengthAdjust="spacingAndGlyphs">68,000</text>
<text x="1708.96" y="456" font-size="16.1" fill="#555" textLength="45.44" lengthAdjust="spacingAndGlyphs">67,500</text>
<text x="1708.96" y="499" font-size="16.1" fill="#555" textLength="45.44" lengthAdjust="spacingAndGlyphs">67,000</text>
<text x="1708.96" y="543" font-size="16.1" fill="#555" textLength="45.44" lengthAdjust="spacingAndGlyphs">66,500</text>
<text x="1708.96" y="586" font-size="16.1" fill="#555" textLength="45.44" lengthAdjust="spacingAndGlyphs">66,000</text>
<text x="1708.00" y="644" font-size="16.1" fill="#555" textLength="37.46" lengthAdjust="spacingAndGlyphs">80.00</text>
<text x="1707.85" y="686" font-size="16.1" fill="#555" textLength="37.62" lengthAdjust="spacingAndGlyphs">70.00</text>
<text x="1707.85" y="728" font-size="16.1" fill="#555" textLength="37.62" lengthAdjust="spacingAndGlyphs">60.00</text>
<text x="1708.00" y="770" font-size="16.1" fill="#555" textLength="37.46" lengthAdjust="spacingAndGlyphs">50.00</text>
<rect x="1698" y="652.3" width="60" height="22" fill="#fff"/>
<text x="1708.65" y="669" font-size="16.1" fill="#131722" textLength="37.75" lengthAdjust="spacingAndGlyphs">74.07</text>
<rect x="1698" y="789.3" width="60" height="22" fill="#fff"/>
<text x="1709.10" y="806" font-size="16.1" fill="#131722" textLength="37.20" lengthAdjust="spacingAndGlyphs">41.29</text>
<path d="M1698,131 H1758 Q1761,131 1761,134 V148.7 Q1761,151.7 1758,151.7 H1698 Z" fill="#000"/>
<text x="1709.34" y="146" font-size="16.1" fill="#fff" stroke="#fff" stroke-width="0.45" textLength="46.24" lengthAdjust="spacingAndGlyphs">71,083</text>
<path d="M1698,212 H1758 Q1761,212 1761,215 V229.7 Q1761,232.7 1758,232.7 H1698 Z" fill="#000"/>
<text x="1709.35" y="227" font-size="16.1" fill="#fff" stroke="#fff" stroke-width="0.45" textLength="46.01" lengthAdjust="spacingAndGlyphs">70,144</text>
<path d="M1698,294 H1758 Q1761,294 1761,297 V311.7 Q1761,314.7 1758,314.7 H1698 Z" fill="#000"/>
<text x="1709.34" y="309" font-size="16.1" fill="#fff" stroke="#fff" stroke-width="0.45" textLength="46.40" lengthAdjust="spacingAndGlyphs">69,207</text>
<path d="M1698,460 H1758 Q1761,460 1761,463 V477.7 Q1761,480.7 1758,480.7 H1698 Z" fill="#000"/>
<text x="1709.34" y="475" font-size="16.1" fill="#fff" stroke="#fff" stroke-width="0.45" textLength="46.24" lengthAdjust="spacingAndGlyphs">67,288</text>
<path d="M1698,518 H1758 Q1761,518 1761,521 V535.7 Q1761,538.7 1758,538.7 H1698 Z" fill="#000"/>
<text x="1709.35" y="533" font-size="16.1" fill="#fff" stroke="#fff" stroke-width="0.45" textLength="46.16" lengthAdjust="spacingAndGlyphs">66,620</text>
<path d="M1698,579 H1758 Q1761,579 1761,582 V596.7 Q1761,599.7 1758,599.7 H1698 Z" fill="#000"/>
<text x="1709.34" y="594" font-size="16.1" fill="#fff" stroke="#fff" stroke-width="0.45" textLength="46.40" lengthAdjust="spacingAndGlyphs">65,917</text>
<path d="M1698,269.4 H1758 Q1761,269.4 1761,272.4 V287.09999999999997 Q1761,290.09999999999997 1758,290.09999999999997 H1698 Z" fill="#2962FF"/>
<text x="1709.34" y="284" font-size="16.1" fill="#fff" stroke="#fff" stroke-width="0.45" textLength="46.24" lengthAdjust="spacingAndGlyphs">69,488</text>
<path d="M1698,364.2 H1758 Q1761,364.2 1761,367.2 V381.9 Q1761,384.9 1758,384.9 H1698 Z" fill="#089981"/>
<text x="1709.34" y="379" font-size="16.1" fill="#fff" stroke="#fff" stroke-width="0.45" textLength="46.32" lengthAdjust="spacingAndGlyphs">68,399</text>
<rect x="1698" y="408.3" width="65" height="38.4" fill="#DA5442"/>
<text x="1709.35" y="423" font-size="16.1" fill="#fff" stroke="#fff" stroke-width="0.45" textLength="45.78" lengthAdjust="spacingAndGlyphs">67,882</text>
<text x="1709.71" y="441" font-size="16.1" fill="#F8DDD8" textLength="57.34" lengthAdjust="spacingAndGlyphs" stroke="#F8DDD8" stroke-width="0.2">01:55:41</text>
<path d="M1698,768.9 H1749 Q1752,768.9 1752,771.9 V786.6999999999999 Q1752,789.6999999999999 1749,789.6999999999999 H1698 Z" fill="#FDE23B"/>
<text x="1708.90" y="785" font-size="16.1" fill="#131722" textLength="37.13" lengthAdjust="spacingAndGlyphs">44.06</text>
<path d="M1698,833.1 H1749 Q1752,833.1 1752,836.1 V850.9 Q1752,853.9 1749,853.9 H1698 Z" fill="#7E57C2"/>
<text x="1708.80" y="849" font-size="16.1" fill="#fff" stroke="#fff" stroke-width="0.45" textLength="37.80" lengthAdjust="spacingAndGlyphs">31.17</text>
<rect x="1703.5" y="1.5" width="80" height="31" rx="4" fill="#fff" stroke="#DDE1EE"/>
<text x="1707.85" y="23" font-size="16.1" fill="#131722" textLength="26.74" lengthAdjust="spacingAndGlyphs">USD</text>
<text x="37.98" y="884" font-size="16.0" fill="#555" textLength="37.49" lengthAdjust="spacingAndGlyphs">12:00</text>
<text x="187.10" y="884" font-size="16.0" fill="#555" textLength="15.64" lengthAdjust="spacingAndGlyphs">27</text>
<text x="372.39" y="884" font-size="16.0" fill="#555" textLength="15.78" lengthAdjust="spacingAndGlyphs">29</text>
<text x="500.38" y="884" font-size="16.0" fill="#555" textLength="37.49" lengthAdjust="spacingAndGlyphs">12:00</text>
<text x="839.14" y="884" font-size="16.0" fill="#555" textLength="7.73" lengthAdjust="spacingAndGlyphs">3</text>
<text x="1024.03" y="884" font-size="16.0" fill="#555" textLength="7.96" lengthAdjust="spacingAndGlyphs">5</text>
<text x="1209.25" y="884" font-size="16.0" fill="#555" textLength="8.31" lengthAdjust="spacingAndGlyphs">7</text>
<text x="1333.88" y="884" font-size="16.0" fill="#555" textLength="37.49" lengthAdjust="spacingAndGlyphs">12:00</text>
<text x="1483.72" y="884" font-size="16.0" fill="#555" textLength="16.02" lengthAdjust="spacingAndGlyphs">10</text>
<text x="1668.93" y="884" font-size="16.0" fill="#555" textLength="15.81" lengthAdjust="spacingAndGlyphs">12</text>
<text x="644.57" y="884" font-size="16.0" fill="#333" font-weight="bold" textLength="27.40" lengthAdjust="spacingAndGlyphs">Jun</text>
<text x="30.54" y="24" font-size="20.3" fill="#4A4A4A" textLength="62.45" lengthAdjust="spacingAndGlyphs">Bitcoin</text>
<text x="101.00" y="24" font-size="20.3" fill="#4A4A4A" textLength="6.15" lengthAdjust="spacingAndGlyphs">/</text>
<text x="115.38" y="24" font-size="20.3" fill="#4A4A4A" textLength="36.71" lengthAdjust="spacingAndGlyphs">U.S.</text>
<text x="157.97" y="24" font-size="20.3" fill="#4A4A4A" textLength="53.28" lengthAdjust="spacingAndGlyphs">Dollar</text>
<text x="214.15" y="24" font-size="20.3" fill="#4A4A4A" textLength="9.99" lengthAdjust="spacingAndGlyphs">·</text>
<text x="226.91" y="24" font-size="20.3" fill="#4A4A4A" textLength="21.49" lengthAdjust="spacingAndGlyphs">4h</text>
<text x="250.25" y="24" font-size="20.3" fill="#4A4A4A" textLength="9.99" lengthAdjust="spacingAndGlyphs">·</text>
<text x="263.22" y="24" font-size="20.3" fill="#4A4A4A" textLength="84.76" lengthAdjust="spacingAndGlyphs">BITSTAMP</text>
<text x="409.06" y="22" font-size="16.4" fill="#595959" textLength="11.13" lengthAdjust="spacingAndGlyphs">O</text>
<text x="421.33" y="22" font-size="16.4" fill="#6B2720" textLength="46.83" lengthAdjust="spacingAndGlyphs">68,381</text>
<text x="477.04" y="22" font-size="16.4" fill="#595959" textLength="11.35" lengthAdjust="spacingAndGlyphs">H</text>
<text x="489.42" y="22" font-size="16.4" fill="#6B2720" textLength="47.64" lengthAdjust="spacingAndGlyphs">68,397</text>
<text x="545.17" y="22" font-size="16.4" fill="#595959" textLength="7.87" lengthAdjust="spacingAndGlyphs">L</text>
<text x="554.72" y="22" font-size="16.4" fill="#6B2720" textLength="47.99" lengthAdjust="spacingAndGlyphs">67,616</text>
<text x="610.11" y="22" font-size="16.4" fill="#595959" textLength="10.01" lengthAdjust="spacingAndGlyphs">C</text>
<text x="621.20" y="22" font-size="16.4" fill="#6B2720" textLength="49.08" lengthAdjust="spacingAndGlyphs">67,882</text>
<text x="678.19" y="22" font-size="16.4" fill="#6B2720" textLength="31.88" lengthAdjust="spacingAndGlyphs">−551</text>
<text x="717.19" y="22" font-size="16.4" fill="#6B2720" textLength="61.72" lengthAdjust="spacingAndGlyphs">(−0.81%)</text>
<rect x="2.2" y="36" width="61" height="29.5" rx="4" fill="none" stroke="#F23645"/>
<text x="11.74" y="57" font-size="16.4" fill="#F23645" textLength="42.34" lengthAdjust="spacingAndGlyphs">67922</text>
<text x="74.15" y="56" font-size="13.5" fill="#333" textLength="6.32" lengthAdjust="spacingAndGlyphs">3</text>
<rect x="91.2" y="36" width="61" height="29.5" rx="4" fill="none" stroke="#2962FF"/>
<text x="100.62" y="57" font-size="16.4" fill="#2962FF" textLength="43.42" lengthAdjust="spacingAndGlyphs">67925</text>
<text x="2.18" y="92" font-size="16.4" fill="#555" textLength="164.01" lengthAdjust="spacingAndGlyphs">EMA 50 close 0 EMA 50</text>
<text x="175.70" y="92" font-size="16.4" fill="#2962FF" textLength="49.12" lengthAdjust="spacingAndGlyphs">69,488</text>
<rect x="3.7" y="104.9" width="34.5" height="23.5" rx="3" fill="none" stroke="#D6D9E2"/>
<text x="2.09" y="644" font-size="16.4" fill="#555" textLength="155.11" lengthAdjust="spacingAndGlyphs">RSI 14 close SMA 14 2</text>
<text x="166.85" y="644" font-size="16.4" fill="#7E57C2" textLength="40.81" lengthAdjust="spacingAndGlyphs">31.17</text>
<text x="213.97" y="644" font-size="16.4" fill="#FDD835" textLength="40.92" lengthAdjust="spacingAndGlyphs">44.06</text>
<text x="52.74" y="843" font-size="25.7" fill="#131722" font-weight="bold" stroke="#fff" stroke-width="3" stroke-linejoin="round" paint-order="stroke">TradingView</text>
</g>
</svg>
</body></html>
